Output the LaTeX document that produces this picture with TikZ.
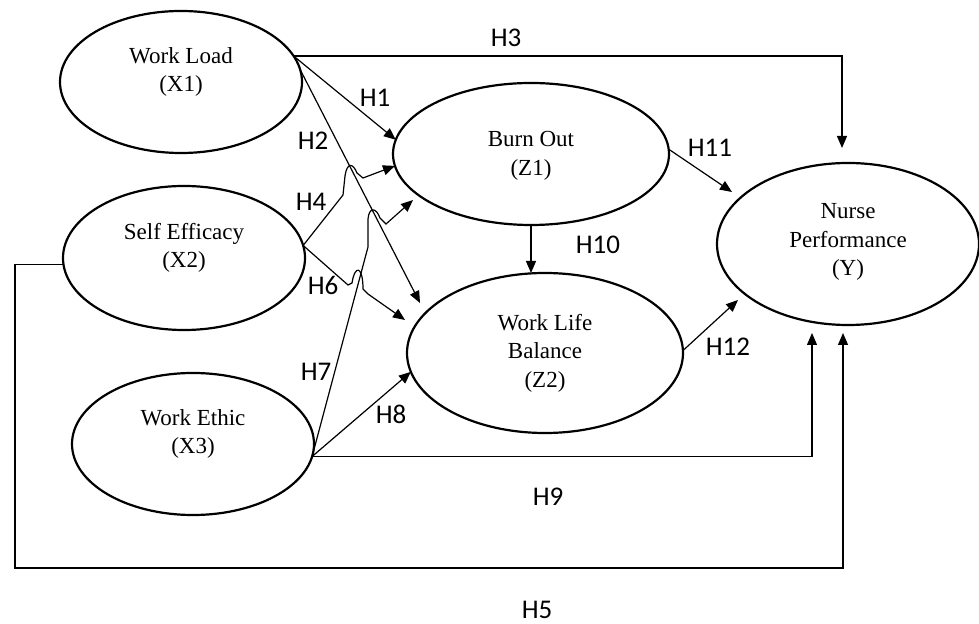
\documentclass[tikz,border=0pt]{standalone}
\usepackage{fontspec}
\setmainfont{Liberation Serif}
\newfontfamily\labfont{Carlito}
\usetikzlibrary{shapes.geometric,arrows.meta,calc}
\begin{document}
\begin{tikzpicture}[x=0.5pt,y=-0.5pt,
  ell/.style={draw,ellipse,line width=1.1pt,inner sep=0pt,outer sep=0pt},
  etext/.style={align=center,inner sep=0pt,font=\fontsize{11.5}{14.2}\selectfont},
  hlab/.style={inner sep=0pt,font=\labfont\fontsize{13.5}{15}\selectfont},
  conn/.style={line width=0.6pt},
  arr/.style={conn,-{Triangle[length=6pt,width=5pt]}}]
\useasboundingbox (0,0) rectangle (979,624);
% ellipses
\node[ell,minimum width=121pt,minimum height=71pt] (wl) at (181,82) {};
\node[ell,minimum width=121pt,minimum height=72pt] (se) at (184,258) {};
\node[ell,minimum width=121pt,minimum height=71pt] (we) at (193,444) {};
\node[ell,minimum width=138pt,minimum height=71pt] (bo) at (531,154) {};
\node[ell,minimum width=138pt,minimum height=80pt] (wlb) at (545,353) {};
\node[ell,minimum width=131pt,minimum height=81pt] (np) at (848,244) {};
% texts
\node[etext] (wlt) at (181,72) {Work Load\\(X1)};
\node[etext] (set) at (184,248) {Self Efficacy\\(X2)};
\node[etext] (wet) at (193,434) {Work Ethic\\(X3)};
\node[etext] (bot) at (531,156) {Burn Out\\(Z1)};
\node[etext] (wlbt) at (545,353) {Work Life\\Balance\\(Z2)};
\node[etext] (npt) at (848,242) {Nurse\\Performance\\(Y)};
% free-end coordinates
\coordinate (t2) at ($(wlb.center)+(-125,-50)$);
\coordinate (t6) at ($(wlb.center)+(-140,-33)$);
\coordinate (t7) at ($(bo.center)+(-118,46)$);
\coordinate (t3) at ($(np.north)+(-6,-15)$);
\coordinate (t9) at ($(np.south)+(-36,8)$);
\coordinate (t5) at ($(np.south)+(-5,8)$);
\coordinate (t11) at ($(np.center)+(-116,-52)$);
\coordinate (t12) at ($(np.center)+(-110,56)$);
\coordinate (c5) at (15,568);
% connectors
\draw[arr] (wl.13) -| (t3);
\draw[arr] (wl.13) -- (bo.174);
\draw[arr] (wl.6) -- (t2);
\draw[arr] (se.6) -- (343,195) -- (345,176) .. controls (347,162) and (353,163) .. (357,173) -- (363,178) -- (bo.185);
\draw[arr] (se.6) -- (348,285) -- (352,283) .. controls (355,264) and (363,266) .. (363,289) -- (368,294) -- (t6);
\draw[arr] (we.-6) -- (368,247) -- (368,219) .. controls (369,207) and (376,207) .. (380,218) -- (386,224) -- (t7);
\draw[arr] (we.-6) -- (wlb.188);
\draw[arr] (we.-6) -| (t9);
\draw[arr] (se.183) -| (c5) -| (t5);
\draw[arr] (bo.south) -- (bo.south |- wlb.north);
\draw[arr] (bo.2) -- (t11);
\draw[arr] (wlb.1) -- (t12);
% labels
\node[hlab] (l3) at (506,38) {H3};
\node[hlab] (l1) at (375,98) {H1};
\node[hlab] (l2) at (313,141) {H2};
\node[hlab] (l4) at (311,202) {H4};
\node[hlab] (l6) at (323,285) {H6};
\node[hlab] (l7) at (316,372) {H7};
\node[hlab] (l8) at (391,414) {H8};
\node[hlab] (l10) at (598,245) {H10};
\node[hlab] (l11) at (710,148) {H11};
\node[hlab] (l12) at (728,347) {H12};
\node[hlab] (l9) at (548,497) {H9};
\node[hlab] (l5) at (537,610) {H5};
\end{tikzpicture}
\end{document}
